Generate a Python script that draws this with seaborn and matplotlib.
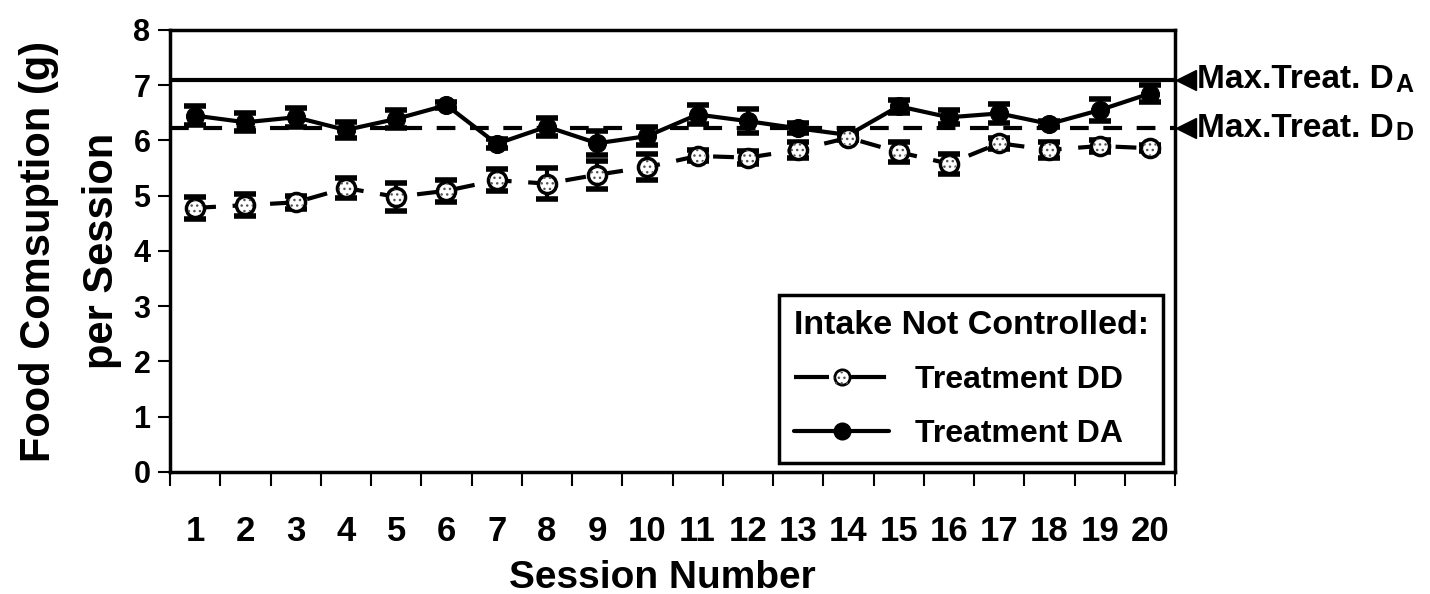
import matplotlib
matplotlib.use("Agg")
import matplotlib.pyplot as plt
import matplotlib.transforms as mtransforms
from matplotlib.lines import Line2D
from matplotlib.legend_handler import HandlerTuple
import numpy as np
import seaborn as sns

# Mean food consumption per session (g) and error half-widths
sessions = list(range(1, 21))
da_mean = [6.45, 6.33, 6.42, 6.19, 6.39, 6.64, 5.94, 6.25, 5.95, 6.08,
           6.47, 6.35, 6.22, 6.10, 6.62, 6.42, 6.49, 6.30, 6.55, 6.85]
da_err = [0.17, 0.16, 0.17, 0.15, 0.17, 0.06, 0.08, 0.16, 0.22, 0.16,
          0.18, 0.22, 0.09, 0.06, 0.12, 0.13, 0.17, 0.05, 0.20, 0.15]
dd_mean = [4.78, 4.83, 4.88, 5.14, 4.98, 5.09, 5.28, 5.22, 5.38, 5.52,
           5.72, 5.69, 5.83, 6.05, 5.79, 5.58, 5.95, 5.83, 5.90, 5.86]
dd_err = [0.20, 0.20, 0.12, 0.18, 0.25, 0.20, 0.20, 0.28, 0.25, 0.24,
          0.10, 0.12, 0.15, 0.05, 0.18, 0.18, 0.10, 0.15, 0.10, 0.05]
max_treat_da = 7.1
max_treat_dd = 6.22
y_ticks = list(range(0, 9))

sns.set_theme(style="white")
plt.rcParams["font.family"] = ["Liberation Sans", "DejaVu Sans"]
plt.rcParams["font.weight"] = "bold"
for key in ["text.color", "axes.labelcolor", "xtick.color", "ytick.color",
            "axes.edgecolor"]:
    plt.rcParams[key] = "black"

fig = plt.figure(figsize=(14.3, 5.94), dpi=100)
ax = fig.add_axes([0.1189, 0.2054, 0.7028, 0.7441])

# Reference levels
ax.axhline(max_treat_da, color="black", lw=3, zorder=2)
ax.axhline(max_treat_dd, color="black", lw=3, linestyle=(0, (4.5, 3.5)), zorder=2)

# Treatment DD: dashed line, speckled open circles
sns.lineplot(x=sessions, y=dd_mean, ax=ax, color="black", lw=3,
             linestyle=(0, (5, 4)), zorder=3)
ax.errorbar(sessions, dd_mean, yerr=dd_err, fmt="none", ecolor="black",
            elinewidth=3, capsize=8, capthick=4, zorder=3)
ax.scatter(sessions, dd_mean, s=170, facecolor="white", edgecolor="black",
           linewidths=2.5, zorder=5)
dd_speckle = ax.scatter(sessions, dd_mean, s=120, facecolor="none",
                        edgecolor="#555555", linewidths=0, hatch="...", zorder=6)

# Treatment DA: solid line, filled circles
sns.lineplot(x=sessions, y=da_mean, ax=ax, color="black", lw=3, marker="o",
             markersize=13, markeredgecolor="black", zorder=4)
ax.errorbar(sessions, da_mean, yerr=da_err, fmt="none", ecolor="black",
            elinewidth=3, capsize=8, capthick=4, zorder=4)

ax.set_xlim(0.5, 20.5)
ax.set_ylim(0, 8)
ax.set_yticks(y_ticks)
ax.set_yticklabels([str(v) for v in y_ticks], fontsize=22, fontweight="bold")
ax.set_xticks(sessions)
ax.set_xticklabels([str(s) for s in sessions], fontsize=25, fontweight="bold")
ax.set_xticks(np.arange(0.5, 21, 1.0), minor=True)
ax.tick_params(axis="x", which="major", length=0, pad=31)
ax.tick_params(axis="x", which="minor", direction="out", length=10, width=1.5,
               color="black", bottom=True)
ax.tick_params(axis="y", which="major", direction="out", length=9, width=1.5,
               color="black", left=True, pad=5)

for side in ["left", "right", "top", "bottom"]:
    ax.spines[side].set_color("black")
    ax.spines[side].set_linewidth(2.5)

ax.set_ylabel("Food Comsuption (g)\nper Session", fontsize=30,
              fontweight="bold", linespacing=1.75)
ax.yaxis.set_label_coords(-0.048, 0.5)
ax.set_xlabel("Session Number", fontsize=28, fontweight="bold")
ax.xaxis.set_label_coords(0.49, -0.198)

# Labels for the reference levels, outside the right edge
trans = mtransforms.blended_transform_factory(ax.transAxes, ax.transData)
for level, sub in [(max_treat_da, "A"), (max_treat_dd, "D")]:
    ax.plot([1.011], [level], marker="<", ms=14, color="black",
            transform=trans, clip_on=False)
    t = ax.text(1.022, level, "Max.Treat. D", transform=trans, va="center",
                ha="left", fontsize=24, fontweight="bold")
    ax.annotate(sub, xy=(1, 0), xycoords=t, xytext=(1, -1),
                textcoords="offset points", va="bottom", ha="left",
                fontsize=18, fontweight="bold")

# Legend
dd_handle = (Line2D([], [], color="black", lw=3, linestyle=(0, (8.4, 5.3))),
             Line2D([], [], ls="none", marker="o", ms=11, mfc="white",
                    mec="black", mew=2),
             dd_speckle)
da_handle = Line2D([], [], color="black", lw=3, marker="o", ms=12)
leg = ax.legend([dd_handle, da_handle], ["Treatment DD", "Treatment DA"],
                title="Intake Not Controlled:", loc="lower right",
                bbox_to_anchor=(0.988, 0.02), borderaxespad=0,
                handler_map={tuple: HandlerTuple(ndivide=1)},
                prop={"weight": "bold", "size": 23},
                title_fontproperties={"weight": "bold", "size": 24.5},
                frameon=True, fancybox=False, framealpha=1,
                edgecolor="black", handlelength=3, labelspacing=0.75,
                borderpad=0.45, handletextpad=0.8, alignment="left",
                scatterpoints=1)
leg.get_frame().set_linewidth(2.5)

fig.savefig("out.png", dpi=100, facecolor="white")
